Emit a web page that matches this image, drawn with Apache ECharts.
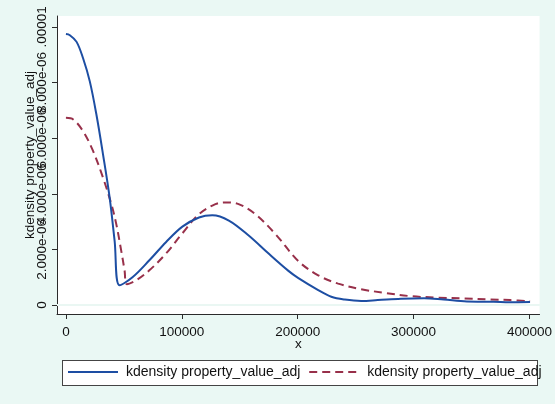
<!DOCTYPE html>
<html>
<head>
<meta charset="utf-8">
<script src="https://cdn.jsdelivr.net/npm/echarts@6/dist/echarts.min.js"></script>
<style>
  html, body { margin: 0; padding: 0; background: #eaf8f4; }
  #wrap { position: relative; width: 555px; height: 404px; }
  #legend-box { position: absolute; left: 62px; top: 360px; width: 474px; height: 24px;
    background: #ffffff; border: 1px solid #444; }
  #chart { position: absolute; left: 0; top: 0; width: 555px; height: 404px; }
</style>
</head>
<body>
<div id="wrap">
  <div id="legend-box"></div>
  <div id="chart"></div>
</div>
<script>
// Kernel density estimates of property_value_adj (two estimates)
var blueX = [0, 3400, 9200, 14800, 20600, 26300, 32000, 37700, 42000, 46300,
  57700, 72000, 86300, 100500, 114800, 126300, 140600, 157700, 174900, 192000,
  200600, 217700, 229000, 240600, 254800, 269000, 289000, 309000, 326000, 346000,
  369000, 383000, 400500];
var blueY = [9.74e-6, 9.70e-6, 9.46e-6, 8.87e-6, 8.04e-6, 6.85e-6, 5.42e-6, 3.87e-6, 2.32e-6, 0.71e-6,
  1.01e-6, 1.61e-6, 2.26e-6, 2.82e-6, 3.15e-6, 3.23e-6, 3.04e-6, 2.50e-6, 1.85e-6, 1.23e-6,
  0.97e-6, 0.54e-6, 0.30e-6, 0.20e-6, 0.15e-6, 0.18e-6, 0.23e-6, 0.25e-6, 0.20e-6, 0.13e-6,
  0.12e-6, 0.10e-6, 0.11e-6];

var redX = [0, 6300, 14800, 23400, 32000, 39200, 43400, 47700, 50600, 52600,
  60600, 72000, 86300, 100500, 114800, 129000, 137700, 149000, 163400, 180600,
  200600, 217700, 234900, 254800, 274900, 297700, 320600, 343400, 366300, 383400,
  400500];
var redY = [6.73e-6, 6.67e-6, 6.25e-6, 5.54e-6, 4.58e-6, 3.63e-6, 2.92e-6, 1.96e-6, 1.25e-6, 0.75e-6,
  0.89e-6, 1.25e-6, 1.85e-6, 2.58e-6, 3.27e-6, 3.63e-6, 3.69e-6, 3.63e-6, 3.27e-6, 2.56e-6,
  1.58e-6, 1.07e-6, 0.77e-6, 0.57e-6, 0.44e-6, 0.32e-6, 0.27e-6, 0.24e-6, 0.20e-6, 0.18e-6,
  0.14e-6];

var xTicks = [0, 100000, 200000, 300000, 400000];
var yTicks = [0, 2e-6, 4e-6, 6e-6, 8e-6, 1e-5];
var yTickLabels = ['0', '2.000e-06', '4.000e-06', '6.000e-06', '8.000e-06', '.00001'];

var seriesName = 'kdensity property_value_adj';

function pairs(xs, ys) {
  return xs.map(function (x, i) { return [x, ys[i]]; });
}

function yLabel(v) {
  var best = 0;
  for (var i = 1; i < yTicks.length; i++) {
    if (Math.abs(yTicks[i] - v) < Math.abs(yTicks[best] - v)) best = i;
  }
  return yTickLabels[best];
}

var font = 'Liberation Sans, Arial, sans-serif';
var axisColor = '#2b2b2b';

var chart = echarts.init(document.getElementById('chart'), null, { renderer: 'canvas' });
chart.setOption({
  animation: false,
  backgroundColor: 'transparent',
  grid: { left: 57, right: 12, top: 16, bottom: 90, show: true, backgroundColor: '#ffffff', borderWidth: 0 },
  xAxis: {
    type: 'value',
    min: -7700,
    max: 408700,
    name: 'x',
    nameLocation: 'middle',
    nameGap: 23,
    nameMoveOverlap: false,
    nameTextStyle: { fontFamily: font, fontSize: 13.5, color: '#111' },
    axisLine: { show: true, onZero: false, lineStyle: { color: axisColor, width: 1 } },
    axisTick: { show: true, length: 5, customValues: xTicks, lineStyle: { color: axisColor } },
    axisLabel: { customValues: xTicks, margin: 11, fontFamily: font, fontSize: 13.5, color: '#111',
      formatter: function (v) { return String(v); } },
    splitLine: { show: false }
  },
  yAxis: {
    type: 'value',
    min: -0.32e-6,
    max: 10.39e-6,
    name: seriesName,
    nameLocation: 'middle',
    nameRotate: 90,
    nameGap: 20,
    nameMoveOverlap: false,
    nameTextStyle: { fontFamily: font, fontSize: 13.5, color: '#111', padding: [0, 0, 0, 20] },
    axisLine: { show: true, onZero: false, lineStyle: { color: axisColor, width: 1 } },
    axisTick: { show: true, length: 5, customValues: yTicks, lineStyle: { color: axisColor } },
    axisLabel: { customValues: yTicks, rotate: 90, margin: 8, fontFamily: font, fontSize: 13.5, color: '#111',
      formatter: yLabel },
    splitLine: { show: false }
  },
  legend: {
    left: 67,
    top: 365,
    width: 520,
    itemWidth: 50,
    itemHeight: 14,
    itemGap: 4,
    padding: 0,
    borderWidth: 0,
    backgroundColor: 'transparent',
    textStyle: { fontFamily: font, fontSize: 14, color: '#111', padding: [0, 0, 0, 3] },
    data: [
      { name: seriesName + ' ', itemStyle: { opacity: 0 } },
      { name: seriesName + '  ', itemStyle: { opacity: 0 } }
    ]
  },
  series: [
    {
      name: 'grid',
      type: 'line',
      data: [],
      silent: true,
      markLine: {
        silent: true,
        symbol: 'none',
        label: { show: false },
        lineStyle: { color: '#eaf7f3', type: 'solid', width: 1.5 },
        data: yTicks.map(function (v) { return { yAxis: v }; })
      },
      z: 1
    },
    {
      name: seriesName + ' ',
      type: 'line',
      data: pairs(blueX, blueY),
      showSymbol: false,
      symbol: 'none',
      smooth: 0.35,
      lineStyle: { color: '#1d4ea3', width: 2 },
      itemStyle: { color: '#1d4ea3' },
      z: 3
    },
    {
      name: seriesName + '  ',
      type: 'line',
      data: pairs(redX, redY),
      showSymbol: false,
      symbol: 'none',
      smooth: 0.35,
      lineStyle: { color: '#98304a', width: 2, type: [8, 5] },
      itemStyle: { color: '#98304a' },
      z: 2
    }
  ]
});
</script>
</body>
</html>
